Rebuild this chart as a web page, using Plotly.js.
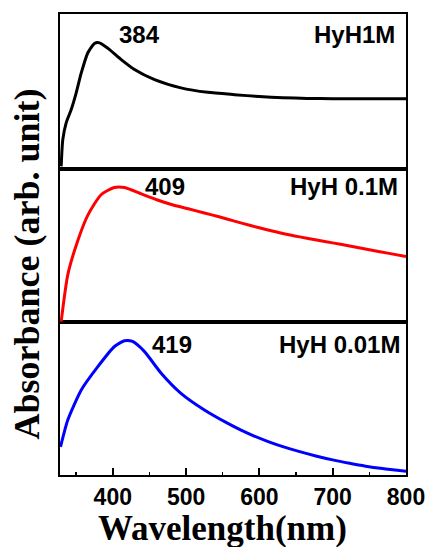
<!DOCTYPE html>
<html>
<head>
<meta charset="utf-8">
<script src="https://cdn.plot.ly/plotly-3.0.1.min.js"></script>
<style>html,body{margin:0;padding:0;background:#fff;}#chart{width:427px;height:547px;}</style>
</head>
<body>
<div id="chart"></div>
<script>
// Wavelength (nm) and absorbance (arb. unit)
const wl1M  = [329.6, 331.8, 336.5, 343.3, 350, 357, 366, 375, 382, 393, 411.5, 429.6, 457, 493, 529.5, 566, 600, 632, 665, 700, 750, 800];
const abs1M = [0.018, 0.19, 0.30, 0.384, 0.49, 0.62, 0.75, 0.81, 0.814, 0.78, 0.706, 0.642, 0.577, 0.524, 0.495, 0.48, 0.468, 0.46, 0.456, 0.454, 0.453, 0.453];

const wl01M  = [329.6, 338.6, 352, 366, 384, 402, 416, 439, 460, 480, 503, 525, 545, 566, 588, 609, 632, 655, 678, 700, 725, 750, 775, 800];
const abs01M = [0.005, 0.31, 0.53, 0.70, 0.833, 0.88, 0.88, 0.838, 0.80, 0.769, 0.741, 0.714, 0.689, 0.661, 0.632, 0.606, 0.58, 0.558, 0.538, 0.519, 0.497, 0.474, 0.452, 0.43];

const wl001M  = [328.7, 338.6, 357, 379.6, 402.3, 416, 427, 443, 466, 493, 525, 557, 575, 593, 612, 632, 655, 677, 700, 723, 745, 768, 800];
const abs001M = [0.184, 0.36, 0.557, 0.71, 0.842, 0.88, 0.875, 0.81, 0.667, 0.535, 0.426, 0.338, 0.294, 0.255, 0.219, 0.186, 0.153, 0.125, 0.099, 0.077, 0.058, 0.042, 0.024];

const seriesNames = ['HyH1M', 'HyH 0.1M', 'HyH 0.01M'];
const peakLabels = ['384', '409', '419'];
const xTicks = [400, 500, 600, 700, 800];

const lineFont = {family: 'Liberation Sans, Arial, sans-serif', size: 24, color: '#000', weight: 'bold'};
const serifBold = {family: 'Liberation Serif, Times New Roman, serif', size: 35, color: '#000', weight: 'bold'};
const curveLine = function (c) { return {color: c, width: 3, shape: 'spline', smoothing: 0.6}; };

const traces = [
  {x: wl1M, y: abs1M, xaxis: 'x3', yaxis: 'y3', name: seriesNames[0], mode: 'lines', line: curveLine('#000000')},
  {x: wl01M, y: abs01M, xaxis: 'x2', yaxis: 'y2', name: seriesNames[1], mode: 'lines', line: curveLine('#ff0000')},
  {x: wl001M, y: abs001M, xaxis: 'x', yaxis: 'y', name: seriesNames[2], mode: 'lines', line: curveLine('#0000ff')}
];

const frameX = {range: [328, 800], showline: true, mirror: true, linecolor: '#000', linewidth: 2, showgrid: false, zeroline: false};
const frameY = {range: [0, 1], showline: true, mirror: true, linecolor: '#000', linewidth: 2, showgrid: false, zeroline: false, showticklabels: false, ticks: ''};

const layout = {
  width: 427, height: 547,
  margin: {l: 60, r: 21, t: 14, b: 72},
  paper_bgcolor: '#fff', plot_bgcolor: '#fff',
  showlegend: false,
  xaxis: Object.assign({}, frameX, {
    anchor: 'y', tickvals: xTicks, ticktext: xTicks.map(String), ticks: 'inside', ticklen: 7, tickwidth: 2, tickcolor: '#000',
    minor: {ticks: 'inside', ticklen: 3, tickwidth: 1.5, tickcolor: '#000', dtick: 50, tick0: 350},
    tickfont: {family: 'Liberation Sans, Arial, sans-serif', size: 23, color: '#000', weight: 'bold'}
  }),
  xaxis2: Object.assign({}, frameX, {anchor: 'y2', matches: 'x', showticklabels: false, ticks: ''}),
  xaxis3: Object.assign({}, frameX, {anchor: 'y3', matches: 'x', showticklabels: false, ticks: ''}),
  yaxis: Object.assign({}, frameY, {domain: [0, 0.331]}),
  yaxis2: Object.assign({}, frameY, {domain: [0.331, 0.6635]}),
  yaxis3: Object.assign({}, frameY, {domain: [0.6635, 1]}),
  annotations: [
    {text: peakLabels[0], xref: 'paper', yref: 'paper', x: 0.165, y: 0.956, xanchor: 'left', yanchor: 'middle', showarrow: false, font: lineFont},
    {text: seriesNames[0], xref: 'paper', yref: 'paper', x: 0.974, y: 0.956, xanchor: 'right', yanchor: 'middle', showarrow: false, font: lineFont},
    {text: peakLabels[1], xref: 'paper', yref: 'paper', x: 0.240, y: 0.625, xanchor: 'left', yanchor: 'middle', showarrow: false, font: lineFont},
    {text: seriesNames[1], xref: 'paper', yref: 'paper', x: 0.983, y: 0.625, xanchor: 'right', yanchor: 'middle', showarrow: false, font: lineFont},
    {text: peakLabels[2], xref: 'paper', yref: 'paper', x: 0.260, y: 0.284, xanchor: 'left', yanchor: 'middle', showarrow: false, font: lineFont},
    {text: seriesNames[2], xref: 'paper', yref: 'paper', x: 0.988, y: 0.284, xanchor: 'right', yanchor: 'middle', showarrow: false, font: lineFont},
    {text: 'Absorbance (arb. unit)', xref: 'paper', yref: 'paper', x: -0.095, y: 0.457, xanchor: 'center', yanchor: 'middle', textangle: -90, showarrow: false,
     font: Object.assign({}, serifBold, {size: 36})},
    {text: 'Wavelength(nm)', xref: 'paper', yref: 'paper', x: 0.47, y: -0.115, xanchor: 'center', yanchor: 'middle', showarrow: false, font: serifBold}
  ]
};

Plotly.newPlot('chart', traces, layout, {displayModeBar: false, staticPlot: true});
</script>
</body>
</html>
